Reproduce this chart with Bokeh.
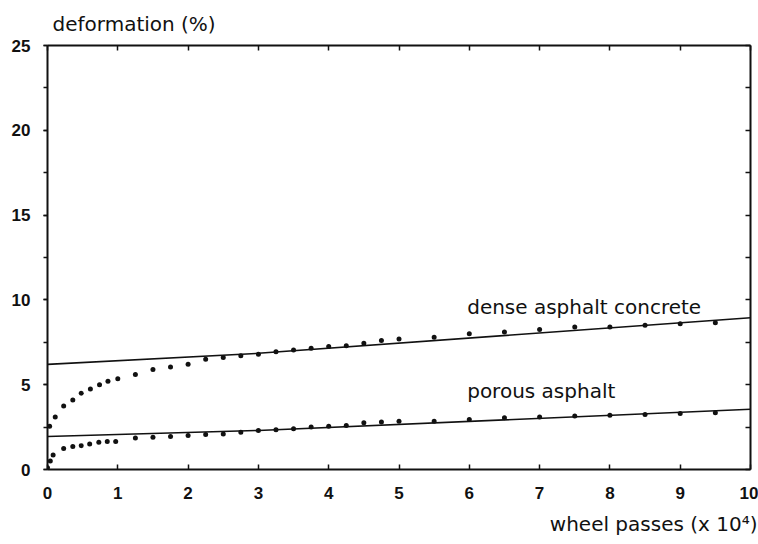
from bokeh.plotting import figure
from bokeh.models import LinearAxis, FixedTicker, Range1d, Label, Title
from bokeh.embed import file_html
from bokeh.resources import INLINE

# wheel passes (x 10^4) and measured deformation (%)
dense_x = [0.03, 0.11, 0.23, 0.36, 0.48, 0.61, 0.74, 0.86, 1.0, 1.25, 1.5, 1.75,
           2.0, 2.25, 2.5, 2.75, 3.0, 3.25, 3.5, 3.75, 4.0, 4.25, 4.5, 4.75,
           5.0, 5.5, 6.0, 6.5, 7.0, 7.5, 8.0, 8.5, 9.0, 9.5]
dense_y = [2.55, 3.1, 3.75, 4.1, 4.5, 4.75, 5.0, 5.2, 5.35, 5.6, 5.9, 6.05,
           6.2, 6.5, 6.6, 6.7, 6.8, 6.95, 7.05, 7.15, 7.25, 7.3, 7.45, 7.6,
           7.7, 7.8, 8.0, 8.1, 8.25, 8.4, 8.4, 8.5, 8.6, 8.65]

porous_x = [0.0, 0.04, 0.08, 0.23, 0.36, 0.48, 0.6, 0.73, 0.85, 0.97, 1.25, 1.5,
            1.75, 2.0, 2.25, 2.5, 2.75, 3.0, 3.25, 3.5, 3.75, 4.0, 4.25, 4.5,
            4.75, 5.0, 5.5, 6.0, 6.5, 7.0, 7.5, 8.0, 8.5, 9.0, 9.5]
porous_y = [0.1, 0.5, 0.85, 1.24, 1.35, 1.4, 1.5, 1.6, 1.65, 1.65, 1.85, 1.9,
            1.95, 2.0, 2.07, 2.1, 2.2, 2.3, 2.35, 2.4, 2.5, 2.55, 2.6, 2.75,
            2.8, 2.85, 2.85, 2.95, 3.05, 3.1, 3.15, 3.2, 3.25, 3.3, 3.35]

# long-term trend lines
dense_fit_x = [0, 3, 10]
dense_fit_y = [6.2, 6.85, 8.95]
porous_fit_x = [0, 3, 10]
porous_fit_y = [1.95, 2.3, 3.55]

x_ticks = [0, 1, 2, 3, 4, 5, 6, 7, 8, 9, 10]
y_ticks = [0, 5, 10, 15, 20, 25]
y_minor = [0, 2.5, 5, 7.5, 10, 12.5, 15, 17.5, 20, 22.5, 25]

INK = "#111111"
TICK_FONT = "Liberation Sans"
TEXT_FONT = "DejaVu Sans"

p = figure(width=758, height=544,
           min_border_left=47, min_border_right=8,
           min_border_top=10, min_border_bottom=10,
           x_range=Range1d(0, 10), y_range=Range1d(0, 25),
           x_axis_location=None, y_axis_location=None,
           output_backend="svg", toolbar_location=None,
           background_fill_color="white", border_fill_color="white")
p.outline_line_color = None
p.xgrid.visible = False
p.ygrid.visible = False


def style(ax):
    ax.axis_line_color = INK
    ax.axis_line_width = 2
    ax.major_tick_line_color = INK
    ax.major_tick_line_width = 1.5
    ax.minor_tick_line_color = INK
    ax.minor_tick_line_width = 1.5
    ax.major_label_text_font = TICK_FONT
    ax.major_label_text_font_style = "bold"
    ax.major_label_text_font_size = "17px"
    ax.major_label_text_color = INK


def frame_side(ticks):
    # plain frame edge with inward ticks and no tick labels
    ax = LinearAxis(ticker=FixedTicker(ticks=ticks),
                    major_label_overrides={t: "" for t in ticks})
    style(ax)
    ax.major_tick_in = 5
    ax.major_tick_out = 0
    ax.minor_tick_in = 0
    ax.minor_tick_out = 0
    ax.major_label_standoff = 0
    return ax


bottom = LinearAxis(ticker=FixedTicker(ticks=x_ticks))
style(bottom)
bottom.major_tick_in = 5
bottom.major_tick_out = 0
bottom.minor_tick_in = 0
bottom.minor_tick_out = 0
bottom.major_label_standoff = 17
p.add_layout(bottom, "below")

p.add_layout(frame_side(x_ticks), "above")

left = LinearAxis(ticker=FixedTicker(ticks=y_ticks, minor_ticks=y_minor))
style(left)
left.major_tick_in = 0
left.major_tick_out = 4
left.minor_tick_in = 0
left.minor_tick_out = 4
left.major_label_standoff = 13
left.major_label_text_align = "center"
p.add_layout(left, "left")

p.add_layout(frame_side(y_minor), "right")

# axis titles
p.add_layout(Title(text="deformation (%)", align="left", offset=5,
                   text_font=TEXT_FONT, text_font_size="20px",
                   text_font_style="normal", text_color=INK, standoff=19), "above")
p.add_layout(Title(text="wheel passes (x 10\u2074)", align="right", offset=-7,
                   text_font=TEXT_FONT, text_font_size="20px",
                   text_font_style="normal", text_color=INK, standoff=17), "below")

# trend lines
p.line(dense_fit_x, dense_fit_y, line_color=INK, line_width=1.6)
p.line(porous_fit_x, porous_fit_y, line_color=INK, line_width=1.6)

# measurements
p.scatter(dense_x, dense_y, size=5, color=INK, line_color=None)
p.scatter(porous_x, porous_y, size=5, color=INK, line_color=None)

# curve labels
p.add_layout(Label(x=5.97, y=9.6, text="dense asphalt concrete",
                   text_font=TEXT_FONT, text_font_size="20px",
                   text_color=INK, text_align="left", text_baseline="alphabetic"))
p.add_layout(Label(x=5.97, y=4.6, text="porous asphalt",
                   text_font=TEXT_FONT, text_font_size="20px",
                   text_color=INK, text_align="left", text_baseline="alphabetic"))

open("out.html", "w").write(file_html(p, INLINE))
